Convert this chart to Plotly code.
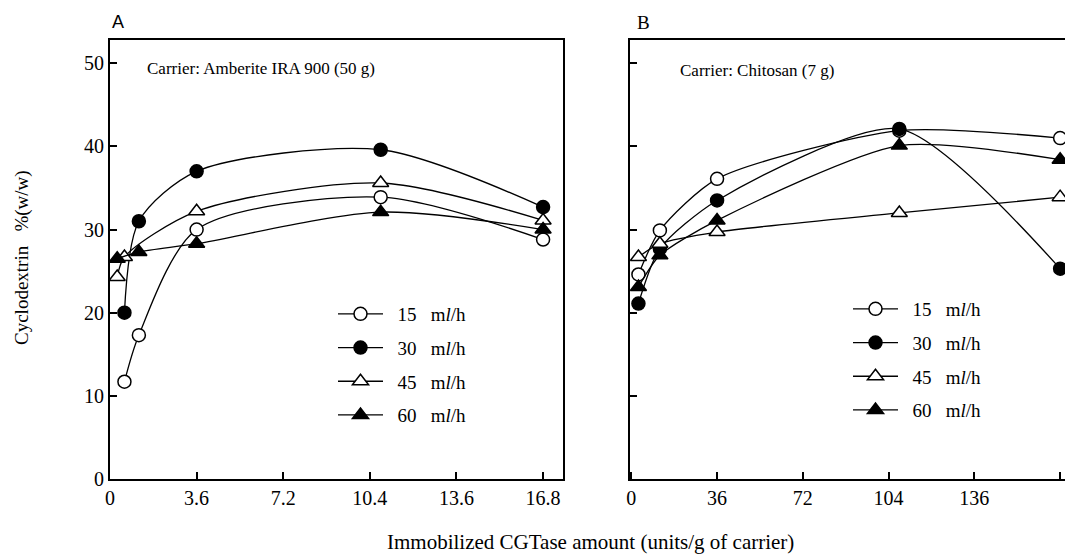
import numpy as np
import plotly.graph_objects as go

# ---------------- data ----------------
a_tick_labels = ["0", "3.6", "7.2", "10.4", "13.6", "16.8"]
a_tick_vals = [0, 3.6, 7.2, 10.4, 13.6, 16.8]
b_tick_labels = ["0", "36", "72", "104", "136", "168"]
b_tick_vals = [0, 36, 72, 104, 136, 168]
y_tick_vals = [0, 10, 20, 30, 40, 50]

NB = "\u00a0"
flow_rates = ["15", "30", "45", "60"]
series_names = [NB + NB + f + NB + NB + " m<i>l</i>/h" for f in flow_rates]

# Panel A: Amberite IRA 900 (50 g)
a15_x = [0.6, 1.2, 3.6, 10.8, 16.8]
a15_y = [11.7, 17.3, 30.0, 33.9, 28.8]
a30_x = [0.6, 1.2, 3.6, 10.8, 16.8]
a30_y = [20.0, 31.0, 37.0, 39.6, 32.7]
a45_x = [0.3, 0.6, 3.6, 10.8, 16.8]
a45_y = [24.3, 26.7, 32.2, 35.6, 31.1]
a60_x = [0.3, 1.2, 3.6, 10.8, 16.8]
a60_y = [26.5, 27.3, 28.3, 32.1, 30.0]

# Panel B: Chitosan (7 g)
b15_x = [3, 12, 36, 108, 168]
b15_y = [24.6, 29.9, 36.1, 41.9, 41.0]
b30_x = [3, 12, 36, 108, 168]
b30_y = [21.1, 27.7, 33.5, 42.1, 25.3]
b45_x = [3, 12, 36, 108, 168]
b45_y = [26.7, 28.3, 29.7, 32.0, 33.9]
b60_x = [3, 12, 36, 108, 168]
b60_y = [23.1, 26.9, 31.1, 40.1, 38.4]

# ---------------- styling ----------------
FONT = "Liberation Serif"
styles = [
    dict(symbol="circle", color="white", size=13),
    dict(symbol="circle", color="black", size=13),
    dict(symbol="triangle-up", color="white", size=14),
    dict(symbol="triangle-up", color="black", size=14),
]


def to_idx(x, ticks):
    # the printed axis has evenly spaced ticks with uneven labels
    return np.interp(x, ticks, np.arange(len(ticks)))


fig = go.Figure()

panel_a = [(a15_x, a15_y), (a30_x, a30_y), (a45_x, a45_y), (a60_x, a60_y)]
panel_b = [(b15_x, b15_y), (b30_x, b30_y), (b45_x, b45_y), (b60_x, b60_y)]

for i, (xs, ys) in enumerate(panel_a):
    st = styles[i]
    fig.add_trace(go.Scatter(
        x=to_idx(xs, a_tick_vals), y=ys, mode="lines+markers",
        name=series_names[i], legend="legend", legendgroup="A%d" % i,
        line=dict(color="black", width=1.3, shape="spline", smoothing=0.8),
        marker=dict(symbol=st["symbol"], size=st["size"], color=st["color"],
                    line=dict(color="black", width=1.5)),
        xaxis="x", yaxis="y"))

for i, (xs, ys) in enumerate(panel_b):
    st = styles[i]
    fig.add_trace(go.Scatter(
        x=to_idx(xs, b_tick_vals), y=ys, mode="lines+markers",
        name=series_names[i], legend="legend2", legendgroup="B%d" % i,
        line=dict(color="black", width=1.3, shape="spline", smoothing=0.7),
        marker=dict(symbol=st["symbol"], size=st["size"], color=st["color"],
                    line=dict(color="black", width=1.5)),
        xaxis="x2", yaxis="y2"))

# page body adds an 8px offset; compensate so content lands on reference pixels
OFF = 8
W, H = 1073 - OFF, 556 - OFF
L, R, T, B = 110 - OFF, 0, 40 - OFF, 556 - 479
PW, PH = W - L - R, H - T - B


def px(xp):
    return (xp - OFF - L) / PW


def py(yp):
    return (H - B - (yp - OFF)) / PH


axis_common = dict(showline=True, linecolor="black", linewidth=2,
                   ticks="inside", ticklen=7, tickwidth=1.5, tickcolor="black",
                   showgrid=False, zeroline=False, automargin=False,
                   tickfont=dict(family=FONT, size=20, color="black"))

legend_common = dict(font=dict(family=FONT, size=19, color="black"),
                     bgcolor="rgba(0,0,0,0)", borderwidth=0,
                     tracegroupgap=6, itemwidth=45, xanchor="left", yanchor="top")

fig.update_layout(
    width=W, height=H,
    margin=dict(l=L, r=R, t=T, b=B),
    paper_bgcolor="white", plot_bgcolor="white",
    font=dict(family=FONT, size=17, color="black"),
    xaxis=dict(domain=[0, px(563)], range=[0, 5.23], anchor="y",
               tickvals=list(range(len(a_tick_labels))), ticktext=a_tick_labels,
               mirror=True, **axis_common),
    yaxis=dict(domain=[0, 1], range=[0, 52.8], anchor="x",
               tickvals=y_tick_vals, mirror=True, **axis_common),
    xaxis2=dict(domain=[px(630), 1], range=[-0.015, 5.15], anchor="y2",
                tickvals=list(range(len(b_tick_labels))), ticktext=b_tick_labels,
                mirror=True, **axis_common),
    yaxis2=dict(domain=[0, 1], range=[0, 52.8], anchor="x2",
                tickvals=y_tick_vals, showticklabels=False, mirror=False, **axis_common),
    legend=dict(x=px(333), y=py(295), **legend_common),
    legend2=dict(x=px(848), y=py(290), **legend_common),
    showlegend=True,
)

ann = dict(xref="paper", yref="paper", showarrow=False)
fig.add_annotation(text="A", x=px(118), y=py(22), xanchor="center", yanchor="middle",
                   font=dict(family="Liberation Sans", size=18, color="black"), **ann)
fig.add_annotation(text="B", x=px(643), y=py(22), xanchor="center", yanchor="middle",
                   font=dict(family=FONT, size=19, color="black"), **ann)
fig.add_annotation(text="Carrier: Amberite IRA 900 (50 g)", x=px(145), y=py(68),
                   xanchor="left", yanchor="middle",
                   font=dict(family=FONT, size=17, color="black"), **ann)
fig.add_annotation(text="Carrier: Chitosan (7 g)", x=px(678), y=py(70),
                   xanchor="left", yanchor="middle",
                   font=dict(family=FONT, size=17, color="black"), **ann)
fig.add_annotation(text="Immobilized CGTase amount (units/g of carrier)", x=px(590), y=py(542),
                   xanchor="center", yanchor="middle",
                   font=dict(family=FONT, size=21, color="black"), **ann)
fig.add_annotation(text="Cyclodextrin" + NB + NB + " %(w/w)", x=px(22), y=py(258), textangle=-90,
                   xanchor="center", yanchor="middle",
                   font=dict(family=FONT, size=19, color="black"), **ann)

fig.write_html("out.html")
